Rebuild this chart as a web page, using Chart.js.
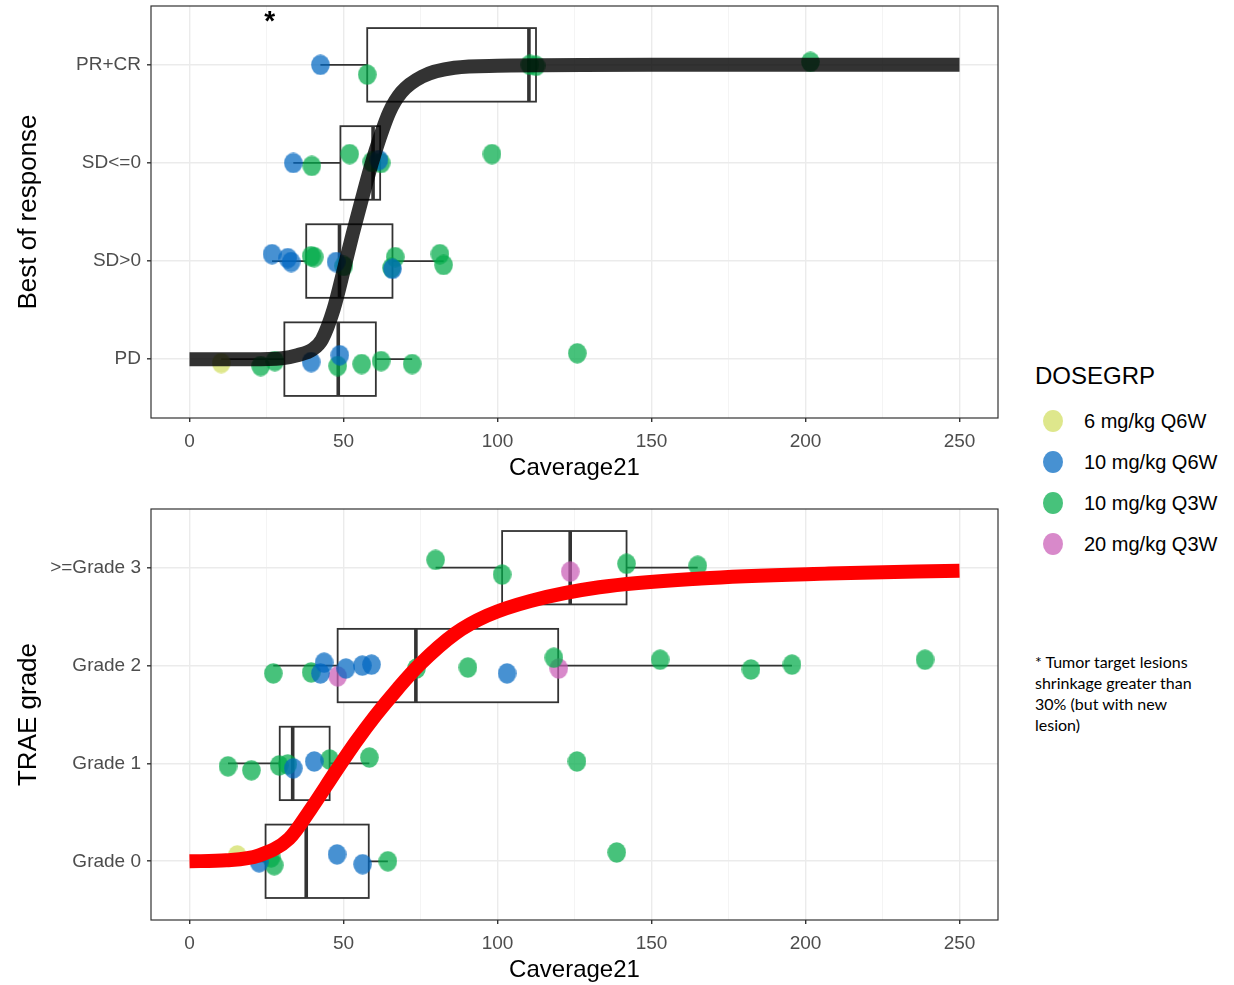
<!DOCTYPE html>
<html>
<head>
<meta charset="utf-8">
<script src="https://cdn.jsdelivr.net/npm/chart.js@4.4.1/dist/chart.umd.min.js"></script>
<style>
  body { margin: 0; background: #fff; width: 1234px; height: 985px; position: relative; overflow: hidden;
         font-family: "Liberation Sans", Arial, sans-serif; }
  canvas { position: absolute; left: 0; }
  #top { top: 0; }
  #bottom { top: 490px; }
  .lg { position: absolute; white-space: nowrap; color: #000; }
  .lg-title { font-size: 24px; line-height: 28px; }
  .lg-label { font-size: 20px; line-height: 24px; }
  .lg-dot { position: absolute; width: 20px; height: 22px; border-radius: 50%; }
  .note { position: absolute; left: 1035px; top: 651px; font-family: Lato, "Open Sans", sans-serif;
          font-size: 16px; line-height: 21px; color: #000; }
</style>
</head>
<body>
<canvas id="top" width="1020" height="490"></canvas>
<canvas id="bottom" width="1020" height="495"></canvas>
<div id="legend"></div>
<div class="note">* Tumor target lesions<br>shrinkage greater than<br>30% (but with new<br>lesion)</div>

<script>
// dose groups and their colours
const doseGroups = ['6 mg/kg Q6W', '10 mg/kg Q6W', '10 mg/kg Q3W', '20 mg/kg Q3W'];
const doseColors = ['rgba(209,222,95,0.72)', 'rgba(0,103,192,0.72)', 'rgba(0,171,72,0.72)', 'rgba(201,91,181,0.72)'];

// x axis
const xMajor = [0, 50, 100, 150, 200, 250];
const xMinor = [25, 75, 125, 175, 225];

// best of response panel (y = category index 1..4 with jitter)
const respCats = ['PD', 'SD>0', 'SD<=0', 'PR+CR'];
const resp6Q6W = [[10.3, 0.96]];
const resp10Q6W = [[39.5, 0.97], [48.8, 1.04],
  [26.8, 2.07], [31.9, 2.03], [33.0, 1.99], [47.6, 1.99], [65.9, 1.92],
  [33.7, 3.0], [61.5, 3.03],
  [42.5, 4.0]];
const resp10Q3W = [[23.1, 0.93], [27.7, 0.98], [48.1, 0.93], [55.9, 0.95], [62.2, 0.98], [72.3, 0.95], [125.9, 1.06],
  [39.5, 2.05], [40.5, 2.04], [50.1, 1.95], [66.8, 2.04], [65.6, 1.93], [81.3, 2.07], [82.5, 1.96],
  [39.7, 2.97], [52.0, 3.09], [59.2, 3.01], [62.2, 3.0], [98.2, 3.09],
  [57.7, 3.90], [110.5, 4.0], [112.5, 3.99], [201.6, 4.03]];
const resp20Q3W = [];
// box stats: whisker low, q1, median, q3, whisker high
const respBoxes = [[10.3, 30.8, 48.3, 60.5, 72.3], [26.8, 37.9, 48.7, 65.9, 82.5],
  [33.7, 49.0, 59.6, 61.9, 62.2], [42.5, 57.7, 110.2, 112.5, 112.5]];
const respCurveX = [0, 20, 30, 35, 40, 43, 46.8, 50.4, 53, 55.7, 59.2, 61.7, 64.9, 68.8, 75.5, 86, 100, 150, 250];
const respCurveY = [1.0, 1.0, 1.01, 1.04, 1.10, 1.2, 1.51, 1.95, 2.28, 2.6, 3.0, 3.25, 3.52, 3.72, 3.88, 3.97, 3.99, 4.0, 4.0];
const starNote = { x: 26, y: 4.49, text: '*' };

// TRAE grade panel
const traeCats = ['Grade 0', 'Grade 1', 'Grade 2', '>=Grade 3'];
const trae6Q6W = [[15.5, 1.06]];
const trae10Q6W = [[22.6, 0.99], [47.9, 1.07], [56.2, 0.97],
  [33.7, 1.95], [40.5, 2.02],
  [43.7, 3.03], [42.5, 2.92], [50.8, 2.97], [56.1, 3.0], [59.1, 3.01], [103.1, 2.92]];
const trae10Q3W = [[26.5, 1.04], [27.5, 0.96], [64.4, 1.0], [138.7, 1.09],
  [12.5, 1.97], [20.1, 1.93], [29.1, 1.98], [31.9, 1.99], [45.5, 2.04], [58.4, 2.06], [125.8, 2.02],
  [27.2, 2.92], [39.5, 2.93], [73.7, 2.97], [90.4, 2.98], [118.3, 3.08], [152.8, 3.06], [182.3, 2.96], [195.6, 3.01], [238.8, 3.06],
  [79.9, 4.08], [101.5, 3.93], [141.9, 4.04], [165.0, 4.02]];
const trae20Q3W = [[48.1, 2.89], [119.9, 2.97], [123.6, 3.96]];
const traeBoxes = [[15.5, 24.7, 37.9, 58.2, 64.4], [12.5, 29.3, 33.5, 45.5, 58.4],
  [27.2, 48.1, 73.5, 119.7, 195.6], [79.9, 101.5, 123.6, 141.9, 165.0]];
const traeCurveX = [0, 12, 22.6, 32.3, 39.3, 47.5, 54, 60.4, 67.5, 74.4, 86.4, 96.6, 110.7, 133, 166, 207.6, 250];
const traeCurveY = [1.0, 1.01, 1.06, 1.23, 1.53, 1.92, 2.22, 2.49, 2.76, 3.0, 3.33, 3.51, 3.66, 3.8, 3.89, 3.94, 3.97];

function makeDot(color) {
  const c = document.createElement('canvas');
  c.width = 19; c.height = 21;
  const g = c.getContext('2d');
  g.fillStyle = color;
  g.beginPath();
  g.ellipse(9.5, 10.5, 9.3, 10.3, 0, 0, Math.PI * 2);
  g.fill();
  return c;
}
const dots = doseColors.map(makeDot);

const boxPlugin = {
  id: 'boxes',
  beforeDatasetsDraw(chart, args, opts) {
    const { ctx, scales: { x, y } } = chart;
    ctx.save();
    ctx.strokeStyle = '#333333';
    opts.stats.forEach((s, i) => {
      const yc = y.getPixelForValue(i + 1);
      const yt = y.getPixelForValue(i + 1.375);
      const yb = y.getPixelForValue(i + 0.625);
      const px = s.map(v => x.getPixelForValue(v));
      ctx.lineWidth = 1.8;
      ctx.beginPath();
      ctx.moveTo(px[0], yc); ctx.lineTo(px[1], yc);
      ctx.moveTo(px[3], yc); ctx.lineTo(px[4], yc);
      ctx.stroke();
      ctx.fillStyle = '#ffffff';
      ctx.fillRect(px[1], yt, px[3] - px[1], yb - yt);
      ctx.strokeRect(px[1], yt, px[3] - px[1], yb - yt);
      ctx.lineWidth = 3.6;
      ctx.beginPath();
      ctx.moveTo(px[2], yt); ctx.lineTo(px[2], yb);
      ctx.stroke();
    });
    ctx.restore();
  }
};

const framePlugin = {
  id: 'frame',
  afterDraw(chart, args, opts) {
    const { ctx, chartArea: a, scales: { x, y } } = chart;
    ctx.save();
    ctx.strokeStyle = '#333333';
    ctx.lineWidth = 1.2;
    ctx.strokeRect(a.left, a.top, a.right - a.left, a.bottom - a.top);
    if (opts.note) {
      ctx.fillStyle = '#000';
      ctx.font = 'bold 28px "Liberation Sans", Arial, sans-serif';
      ctx.textAlign = 'center';
      ctx.textBaseline = 'middle';
      ctx.fillText(opts.note.text, x.getPixelForValue(opts.note.x), y.getPixelForValue(opts.note.y) + 5);
    }
    ctx.restore();
  }
};

function pts(arr) { return arr.map(p => ({ x: p[0], y: p[1] })); }

function makePanel(id, cats, groups, boxes, curveX, curveY, curveColor, yTitle, padTop, axisHeight, titlePad, note) {
  const curve = curveX.map((v, i) => ({ x: v, y: curveY[i] }));
  const datasets = [{
    type: 'line',
    data: curve,
    borderColor: curveColor,
    borderWidth: 14,
    borderCapStyle: 'butt',
    pointRadius: 0,
    cubicInterpolationMode: 'monotone',
    fill: false
  }];
  groups.forEach((g, i) => {
    datasets.push({
      type: 'scatter',
      label: doseGroups[i],
      data: pts(g),
      pointStyle: dots[i],
      pointRadius: 10,
      backgroundColor: doseColors[i]
    });
  });
  const xTicks = xMajor.concat(xMinor).sort((a, b) => a - b);
  return new Chart(document.getElementById(id), {
    type: 'scatter',
    data: { datasets },
    plugins: [boxPlugin, framePlugin],
    options: {
      responsive: false,
      animation: false,
      layout: { autoPadding: false, padding: { left: 0, right: 22, top: padTop, bottom: 0 } },
      plugins: {
        legend: { display: false },
        tooltip: { enabled: false },
        boxes: { stats: boxes },
        frame: { note: note }
      },
      scales: {
        x: {
          type: 'linear', min: -12.5, max: 262.5,
          afterBuildTicks: s => { s.ticks = xTicks.map(v => ({ value: v })); },
          afterFit: s => { s.height = axisHeight; s.paddingLeft = 0; s.paddingRight = 0; },
          border: { display: false },
          grid: {
            color: c => xMajor.includes(c.tick.value) ? '#ebebeb' : '#f3f3f3',
            lineWidth: c => xMajor.includes(c.tick.value) ? 1.4 : 0.9,
            tickColor: c => xMajor.includes(c.tick.value) ? '#333333' : 'rgba(0,0,0,0)',
            tickLength: 4,
            tickWidth: 1.4
          },
          ticks: {
            autoSkip: false, maxRotation: 0, padding: 8,
            color: '#4d4d4d',
            font: { size: 19, family: '"Liberation Sans", Arial, sans-serif' },
            callback: v => xMajor.includes(v) ? String(v) : ''
          },
          title: {
            display: true, text: 'Caverage21', color: '#000',
            font: { size: 24, lineHeight: 1, family: '"Liberation Sans", Arial, sans-serif' },
            padding: { top: 0, bottom: titlePad }
          }
        },
        y: {
          type: 'linear', min: 0.4, max: 4.6,
          afterBuildTicks: s => { s.ticks = cats.map((c, i) => ({ value: i + 1 })); },
          afterFit: s => { s.width = 151; s.paddingTop = 0; s.paddingBottom = 0; },
          border: { display: false },
          grid: { color: '#ebebeb', lineWidth: 1.6, tickColor: '#333333', tickLength: 4, tickWidth: 1.4 },
          ticks: {
            autoSkip: false, padding: 6,
            color: '#4d4d4d',
            font: { size: 19, lineHeight: 0.5, family: '"Liberation Sans", Arial, sans-serif' },
            callback: v => cats[v - 1]
          },
          title: {
            display: true, text: yTitle, color: '#000',
            font: { size: 26, family: '"Liberation Sans", Arial, sans-serif' },
            padding: { top: 13, bottom: 0 }
          }
        }
      }
    }
  });
}

makePanel('top', respCats, [resp6Q6W, resp10Q6W, resp10Q3W, resp20Q3W], respBoxes,
  respCurveX, respCurveY, 'rgba(0,0,0,0.8)', 'Best of response', 6, 72, 10, starNote);
makePanel('bottom', traeCats, [trae6Q6W, trae10Q6W, trae10Q3W, trae20Q3W], traeBoxes,
  traeCurveX, traeCurveY, '#ff0000', 'TRAE grade', 19, 65, 3, null);

// shared legend
const legend = document.getElementById('legend');
const legendY = [421, 462, 503, 544];
let html = '<div class="lg lg-title" style="left:1035px;top:362px">DOSEGRP</div>';
doseGroups.forEach((g, i) => {
  html += '<div class="lg-dot" style="left:1043px;top:' + (legendY[i] - 11) + 'px;background:' + doseColors[i] + '"></div>';
  html += '<div class="lg lg-label" style="left:1084px;top:' + (legendY[i] - 12) + 'px">' + g + '</div>';
});
legend.innerHTML = html;
</script>
</body>
</html>
